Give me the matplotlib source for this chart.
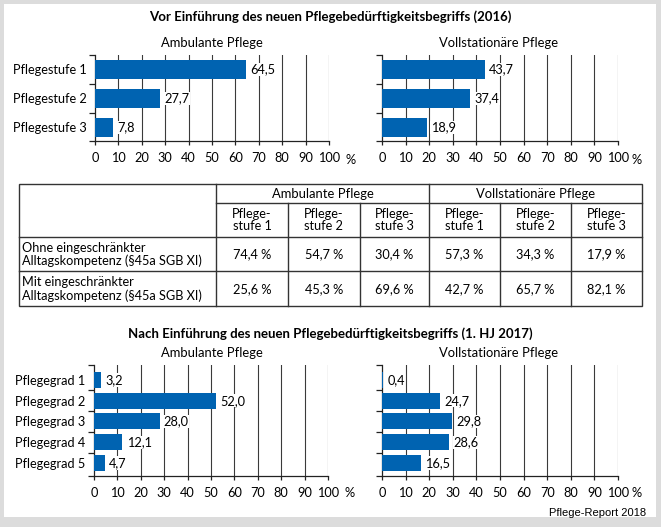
import matplotlib
matplotlib.use("Agg")
import matplotlib.pyplot as plt
from matplotlib.patches import Rectangle
from matplotlib.lines import Line2D

plt.rcParams['font.family'] = ['Lato', 'DejaVu Sans']

# ---------------- data ----------------
stufen = ["Pflegestufe 1", "Pflegestufe 2", "Pflegestufe 3"]
amb_2016 = [64.5, 27.7, 7.8]
stat_2016 = [43.7, 37.4, 18.9]

grade = ["Pflegegrad 1", "Pflegegrad 2", "Pflegegrad 3", "Pflegegrad 4", "Pflegegrad 5"]
amb_2017 = [3.2, 52.0, 28.0, 12.1, 4.7]
stat_2017 = [0.4, 24.7, 29.8, 28.6, 16.5]

x_ticks = [0, 10, 20, 30, 40, 50, 60, 70, 80, 90, 100]

title_top = "Vor Einführung des neuen Pflegebedürftigkeitsbegriffs (2016)"
title_bottom = "Nach Einführung des neuen Pflegebedürftigkeitsbegriffs (1. HJ 2017)"
sub_amb = "Ambulante Pflege"
sub_stat = "Vollstationäre Pflege"

table_groups = ["Ambulante Pflege", "Vollstationäre Pflege"]
table_cols = ["Pflege-\nstufe 1", "Pflege-\nstufe 2", "Pflege-\nstufe 3",
              "Pflege-\nstufe 1", "Pflege-\nstufe 2", "Pflege-\nstufe 3"]
table_rows = ["Ohne eingeschränkter\nAlltagskompetenz (§45a SGB XI)",
              "Mit eingeschränkter\nAlltagskompetenz (§45a SGB XI)"]
ohne = [74.4, 54.7, 30.4, 57.3, 34.3, 17.9]
mit = [25.6, 45.3, 69.6, 42.7, 65.7, 82.1]

source = "Pflege-Report 2018"

# ---------------- layout ----------------
W, H = 661, 527
BLUE = "#0063b1"
FS = 9.2
TFS = 9.5

fig = plt.figure(figsize=(W / 100, H / 100), dpi=100)
fig.patch.set_facecolor("#dcdcdc")

bg = fig.add_axes([0, 0, 1, 1])
bg.set_xlim(0, W)
bg.set_ylim(H, 0)
bg.axis("off")
bg.add_patch(Rectangle((4, 4), 652, 513, facecolor="white", edgecolor="none"))


def pax(x0, x1, y0, y1):
    return fig.add_axes([x0 / W, 1 - y1 / H, (x1 - x0) / W, (y1 - y0) / H])


def fmt(v):
    return f"{v:.1f}".replace(".", ",")


def bar_panel(x0, x1, y0, y1, cats, vals, height, ylim, show_labels):
    ax = pax(x0, x1, y0, y1)
    ax.set_facecolor("none")
    pos = list(range(len(cats)))
    ax.barh(pos, vals, height=height, color=BLUE, zorder=3)
    for p, v in zip(pos, vals):
        ax.text(v + 1.8, p, fmt(v), va="center", ha="left", fontsize=FS, zorder=4,
                bbox=dict(facecolor="white", edgecolor="none", pad=0.5))
    ax.set_xlim(0, 100)
    ax.set_ylim(*ylim)
    for t in x_ticks[1:]:
        ax.axvline(t, color="#3a3a3a", lw=0.8, zorder=1)
    ax.set_xticks(x_ticks)
    ax.set_xticklabels([str(t) for t in x_ticks], fontsize=FS)
    ax.set_yticks(pos)
    if show_labels:
        ax.set_yticklabels(cats, fontsize=FS)
    else:
        ax.set_yticklabels([])
    ax.tick_params(axis="y", length=0, pad=6)
    bounds = [ylim[1]] + [p + 0.5 for p in pos[:-1]] + [ylim[0]]
    ax.set_yticks(bounds, minor=True)
    ax.tick_params(axis="y", which="minor", length=4, width=0.9, color="#222")
    ax.tick_params(axis="x", length=3, width=0.9, color="#222", pad=5)
    for s in ["top", "right"]:
        ax.spines[s].set_visible(False)
    ax.spines["left"].set_linewidth(0.9)
    ax.spines["bottom"].set_linewidth(0.9)
    ax.spines["left"].set_color("#222")
    ax.spines["bottom"].set_color("#222")
    return ax


# top section
bg.text(330, 17, title_top, ha="center", va="center", fontsize=TFS, fontweight="bold")
bg.text(212, 43, sub_amb, ha="center", va="center", fontsize=FS + 0.2)
bg.text(499, 43, sub_stat, ha="center", va="center", fontsize=FS + 0.2)
bar_panel(95, 329, 55, 141, stufen, amb_2016, 0.66, (2.47, -0.5), True)
bar_panel(382, 618, 55, 141, stufen, stat_2016, 0.66, (2.47, -0.5), False)
bg.text(351, 160, "%", ha="center", va="center", fontsize=FS)
bg.text(637, 160, "%", ha="center", va="center", fontsize=FS)

# table
LC = "#333333"
lw = 1.0
cols = [216, 288, 360, 429, 500, 571, 642]
tl, tr, tt = 19, 642, 184
h1, h2, r1, tb = 203, 237, 271, 306
bg.add_patch(Rectangle((tl, tt), tr - tl, tb - tt, fill=False, edgecolor=LC, lw=lw))
bg.add_line(Line2D([216, tr], [h1, h1], color=LC, lw=lw))
bg.add_line(Line2D([tl, tr], [h2, h2], color=LC, lw=lw))
bg.add_line(Line2D([tl, tr], [r1, r1], color=LC, lw=lw))
for i, c in enumerate(cols[:-1]):
    ystart = tt if i in (0, 3) else h1
    bg.add_line(Line2D([c, c], [ystart, tb], color=LC, lw=lw))
bg.text((cols[0] + cols[3]) / 2, (tt + h1) / 2 + 0.5, table_groups[0], ha="center", va="center", fontsize=FS + 0.2)
bg.text((cols[3] + cols[6]) / 2, (tt + h1) / 2 + 0.5, table_groups[1], ha="center", va="center", fontsize=FS + 0.2)
for i, lab in enumerate(table_cols):
    cx = (cols[i] + cols[i + 1]) / 2
    bg.text(cx, (h1 + h2) / 2 + 0.5, lab, ha="center", va="center", fontsize=FS, linespacing=1.0)
    bg.text(cx, (h2 + r1) / 2 + 0.5, fmt(ohne[i]) + " %", ha="center", va="center", fontsize=FS)
    bg.text(cx, (r1 + tb) / 2 + 0.5, fmt(mit[i]) + " %", ha="center", va="center", fontsize=FS)
bg.text(22, (h2 + r1) / 2 + 0.5, table_rows[0], ha="left", va="center", fontsize=FS, linespacing=1.05)
bg.text(22, (r1 + tb) / 2 + 0.5, table_rows[1], ha="left", va="center", fontsize=FS, linespacing=1.05)

# bottom section
bg.text(330, 334, title_bottom, ha="center", va="center", fontsize=TFS, fontweight="bold")
bg.text(212, 353, sub_amb, ha="center", va="center", fontsize=FS + 0.2)
bg.text(499, 353, sub_stat, ha="center", va="center", fontsize=FS + 0.2)
bar_panel(94, 328, 365, 476, grade, amb_2017, 0.77, (4.63, -0.72), True)
bar_panel(382, 618, 365, 476, grade, stat_2017, 0.77, (4.63, -0.72), False)
bg.text(350, 493, "%", ha="center", va="center", fontsize=FS)
bg.text(637, 493, "%", ha="center", va="center", fontsize=FS)

bg.text(646, 513, source, ha="right", va="center", fontsize=8, family="Liberation Sans")

fig.savefig("out.png", dpi=100, facecolor=fig.get_facecolor())
